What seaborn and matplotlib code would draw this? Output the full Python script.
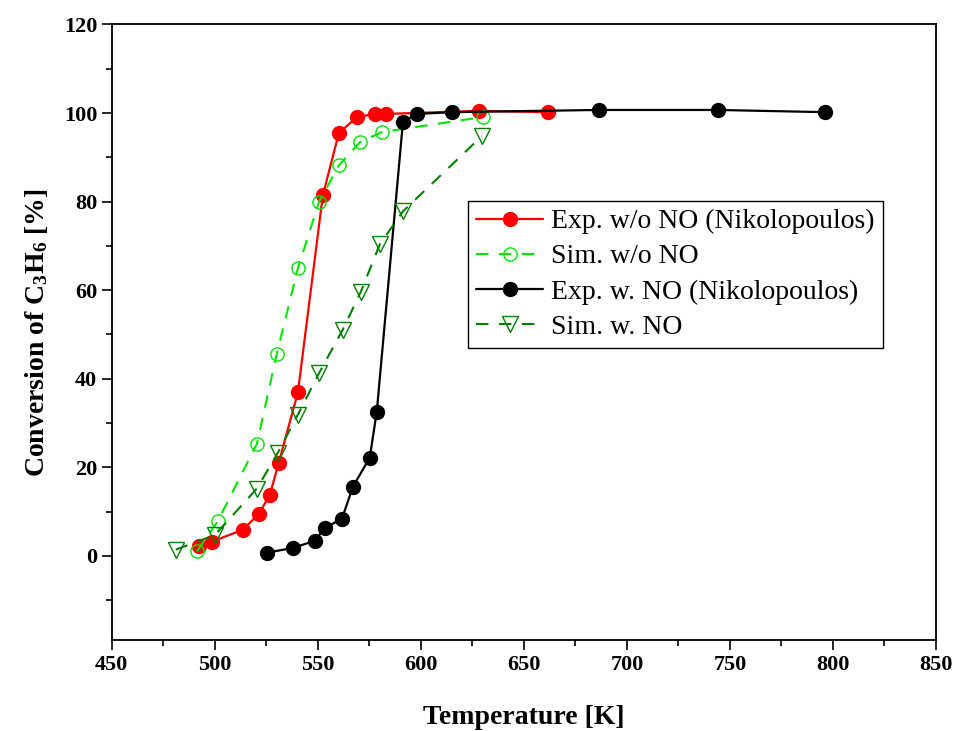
import matplotlib
matplotlib.use("Agg")
import matplotlib.pyplot as plt
import seaborn as sns
import pandas as pd
from matplotlib.ticker import MultipleLocator

# ---- data ----
exp_wo_T = [492.2, 498.5, 513.6, 521.4, 526.7, 531.0, 540.3, 552.4, 560.2, 569.0, 577.7, 583.0, 628.2, 661.7]
exp_wo_Y = [2.2, 3.2, 5.9, 9.5, 13.8, 21.0, 36.9, 81.4, 95.5, 99.1, 99.8, 99.8, 100.5, 100.2]

sim_wo_T = [491.3, 501.5, 520.4, 530.0, 540.3, 550.5, 560.2, 570.4, 581.0, 630.1]
sim_wo_Y = [1.0, 7.9, 25.3, 45.5, 64.9, 79.9, 88.2, 93.4, 95.7, 99.1]

exp_w_T = [525.2, 537.9, 548.5, 553.4, 561.7, 567.0, 575.2, 578.6, 591.3, 598.0, 615.0, 686.4, 744.2, 796.0]
exp_w_Y = [0.7, 1.8, 3.4, 6.3, 8.4, 15.6, 22.2, 32.6, 98.0, 99.8, 100.2, 100.7, 100.7, 100.2]

sim_w_T = [481.0, 500.0, 520.4, 530.6, 540.3, 550.5, 562.1, 570.9, 580.1, 591.3, 629.6]
sim_w_Y = [1.4, 4.7, 15.2, 23.3, 31.9, 41.2, 51.1, 59.7, 70.4, 77.8, 94.8]

labels = ["Exp. w/o NO (Nikolopoulos)", "Sim. w/o NO", "Exp. w. NO (Nikolopoulos)", "Sim. w. NO"]

sns.set_style("white")
plt.rcParams["font.family"] = ["Liberation Serif", "DejaVu Serif"]
plt.rcParams["mathtext.fontset"] = "custom"
plt.rcParams["mathtext.rm"] = "Liberation Serif:bold"
plt.rcParams["mathtext.it"] = "Liberation Serif:bold"
plt.rcParams["mathtext.bf"] = "Liberation Serif:bold"
plt.rcParams["text.color"] = "black"
plt.rcParams["axes.labelcolor"] = "black"
plt.rcParams["xtick.color"] = "black"
plt.rcParams["ytick.color"] = "black"

fig = plt.figure(figsize=(9.56, 7.31), dpi=100)
ax = fig.add_axes([0.117, 0.1245, 0.862, 0.842])

def draw(T, Y, label, color, ls, marker, mfc, ms, lw):
    df = pd.DataFrame({"T": T, "Y": Y})
    sns.lineplot(data=df, x="T", y="Y", ax=ax, estimator=None, sort=False,
                 color=color, linestyle=ls, linewidth=lw, marker=marker,
                 markersize=ms, markerfacecolor=mfc, markeredgecolor=color,
                 markeredgewidth=1.0, label=label)

draw(exp_wo_T, exp_wo_Y, labels[0], "#ff0000", "-", "o", "#ff0000", 10, 1.6)
draw(sim_wo_T, sim_wo_Y, labels[1], "#00e600", (0, (6, 5)), "o", "none", 9.5, 1.5)
draw(exp_w_T, exp_w_Y, labels[2], "#000000", "-", "o", "#000000", 10, 1.6)
draw(sim_w_T, sim_w_Y, labels[3], "#008000", (0, (6, 5)), "v", "none", 11.5, 1.5)

ax.set_xlim(450, 850)
ax.set_ylim(-19, 120)
ax.xaxis.set_major_locator(MultipleLocator(50))
ax.xaxis.set_minor_locator(MultipleLocator(25))
ax.yaxis.set_major_locator(MultipleLocator(20))
ax.yaxis.set_minor_locator(MultipleLocator(10))
ax.tick_params(axis="both", which="major", direction="out", length=7, width=1.2,
               labelsize=16, bottom=True, left=True, top=False, right=False)
ax.tick_params(axis="both", which="minor", direction="out", length=4, width=1.2,
               bottom=True, left=True, top=False, right=False)
for lab in ax.get_xticklabels() + ax.get_yticklabels():
    lab.set_fontweight("bold")
for s in ax.spines.values():
    s.set_visible(True)
    s.set_color("black")
    s.set_linewidth(1.3)

ax.set_xlabel("Temperature [K]", fontsize=20, fontweight="bold", labelpad=22)
ax.set_ylabel(r"Conversion of C$_{3}$H$_{6}$ [%]", fontsize=20, fontweight="bold", labelpad=10)

leg = ax.legend(loc="upper left", bbox_to_anchor=(0.432, 0.714), fontsize=20,
                frameon=True, fancybox=False, edgecolor="black", framealpha=1,
                handlelength=2.4, borderpad=0.3, labelspacing=0.35, handletextpad=0.3,
                borderaxespad=0)
leg.get_frame().set_linewidth(1.0)

fig.savefig("out.png", dpi=100)
